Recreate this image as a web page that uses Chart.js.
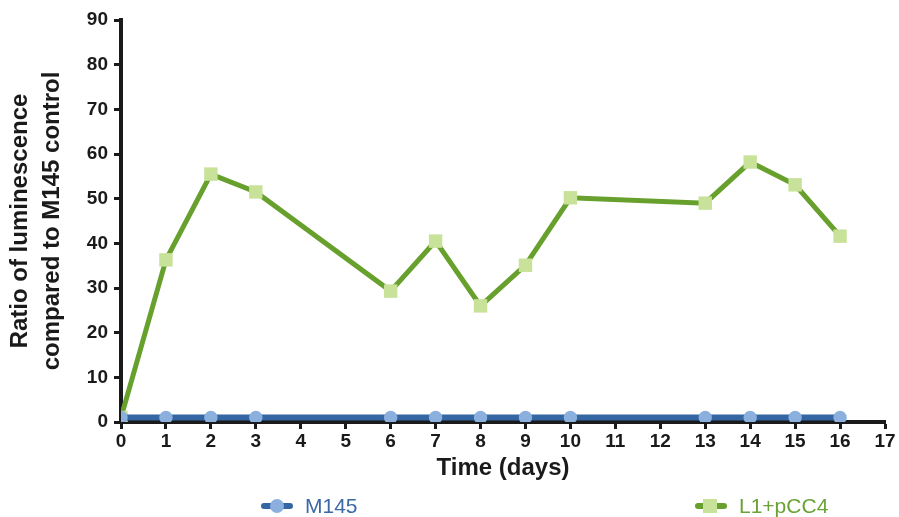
<!DOCTYPE html>
<html>
<head>
<meta charset="utf-8">
<script src="https://cdn.jsdelivr.net/npm/chart.js@4/dist/chart.umd.min.js"></script>
<style>
  html, body { margin: 0; padding: 0; background: #fff; }
  #wrap { position: relative; width: 899px; height: 517px; }
  canvas { position: absolute; left: 0; top: 0; }
  .leg { position: absolute; top: 494px; height: 24px; display: flex; align-items: center;
         font-family: "Liberation Sans", Arial, sans-serif; font-size: 21px; }
  .mk { position: relative; width: 32px; height: 14px; margin-right: 12px; }
  .mk .ln { position: absolute; left: 0; right: 0; top: 4px; height: 6px; border-radius: 3px; }
  .mk .pt { position: absolute; left: 9px; top: 0; width: 14px; height: 14px; }
</style>
</head>
<body>
<div id="wrap">
  <canvas id="c" width="899" height="517"></canvas>
  <div class="leg" style="left:261px; color:#3a69a6;">
    <div class="mk"><div class="ln" style="background:#3366a2"></div><div class="pt" style="background:#8cb0de;border-radius:50%"></div></div>
    <span id="lg0"></span>
  </div>
  <div class="leg" style="left:695px; color:#69a236;">
    <div class="mk"><div class="ln" style="background:#67a02c"></div><div class="pt" style="background:#c8e29a;left:8px"></div></div>
    <span id="lg1"></span>
  </div>
</div>
<script>
const seriesNames = ["M145", "L1+pCC4"];
const days = [0, 1, 2, 3, 6, 7, 8, 9, 10, 13, 14, 15, 16];
const m145Values = [1, 1, 1, 1, 1, 1, 1, 1, 1, 1, 1, 1, 1];
const l1pcc4Values = [1, 36.3, 55.5, 51.5, 29.3, 40.5, 26.0, 35.1, 50.2, 49.0, 58.2, 53.1, 41.6];
const xTitle = "Time (days)";
const yTitle = ["Ratio of luminescence", "compared to M145 control"];

document.getElementById("lg0").textContent = seriesNames[0];
document.getElementById("lg1").textContent = seriesNames[1];

const toXY = (xs, ys) => xs.map((x, i) => ({ x: x, y: ys[i] }));
const FONT = "'Liberation Sans', Arial, sans-serif";

new Chart(document.getElementById("c"), {
  type: "line",
  data: {
    datasets: [
      {
        label: seriesNames[0],
        data: toXY(days, m145Values),
        borderColor: "#3366a2",
        backgroundColor: "#8cb0de",
        borderWidth: 6,
        pointStyle: "circle",
        pointRadius: 6.7,
        pointHoverRadius: 6.7,
        pointBorderWidth: 0,
        pointBackgroundColor: "#8cb0de",
        tension: 0
      },
      {
        label: seriesNames[1],
        data: toXY(days, l1pcc4Values),
        borderColor: "#67a02c",
        backgroundColor: "#c8e29a",
        borderWidth: 5,
        pointStyle: "rect",
        pointRadius: 9.5,
        pointHoverRadius: 9.5,
        pointBorderWidth: 0,
        pointBackgroundColor: "#c8e29a",
        tension: 0
      }
    ]
  },
  options: {
    responsive: false,
    animation: false,
    layout: { padding: { left: 0, right: 14, top: 20, bottom: 30 } },
    plugins: { legend: { display: false }, tooltip: { enabled: false } },
    scales: {
      x: {
        type: "linear",
        min: 0, max: 17,
        ticks: { stepSize: 1, color: "#1a1a1a", font: { family: FONT, size: 19, weight: "bold" }, padding: 1 },
        grid: { drawOnChartArea: false, drawTicks: true, tickLength: 7, tickWidth: 3, tickColor: "#1a1a1a" },
        border: { display: true, color: "#1a1a1a", width: 4 },
        title: { display: true, text: xTitle, color: "#1a1a1a", font: { family: FONT, size: 24, weight: "bold" }, padding: { top: 5, bottom: 4 } },
        afterFit: (s) => { s.height = 65; }
      },
      y: {
        min: 0, max: 90,
        ticks: { stepSize: 10, color: "#1a1a1a", font: { family: FONT, size: 19, weight: "bold" }, padding: 6 },
        grid: { drawOnChartArea: false, drawTicks: true, tickLength: 7, tickWidth: 3, tickColor: "#1a1a1a" },
        border: { display: true, color: "#1a1a1a", width: 4 },
        title: { display: true, text: yTitle, color: "#1a1a1a", font: { family: FONT, size: 24, weight: "bold", lineHeight: 1.33 }, padding: { top: 4, bottom: 4 } },
        afterFit: (s) => { s.width = 121; }
      }
    }
  }
});
</script>
</body>
</html>
